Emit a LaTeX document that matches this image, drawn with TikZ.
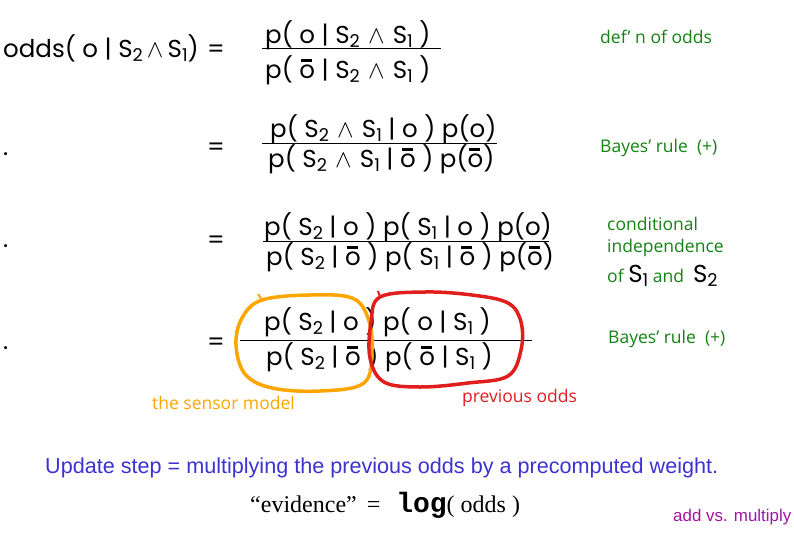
\documentclass[tikz,border=0pt]{standalone}
\usepackage{fontspec}
\usepackage{graphicx}
\setmainfont{Poppins}
\newfontfamily\gfont{Open Sans}
\newfontfamily\afont{Liberation Sans}
\newfontfamily\tfont{Liberation Serif}
\newfontfamily\mfont{Liberation Mono}
\newcommand\sbs[1]{\raisebox{-0.3ex}{\scalebox{0.72}{#1}}}
\newcommand\ob{\rlap{\hspace{0.06em}\rule[0.64em]{0.46em}{0.13em}}o}
\newcommand\wg{\,\,$\wedge$\,\,}
\newcommand\wgs{\,$\wedge$\,}
\definecolor{gr}{RGB}{20,130,20}
\definecolor{org}{RGB}{255,165,0}
\definecolor{rd}{RGB}{225,30,30}
\definecolor{bl}{RGB}{60,50,210}
\definecolor{pu}{RGB}{160,20,160}
\begin{document}
\begin{tikzpicture}[x=1pt,y=-1pt,
  eq/.style={inner sep=0pt,anchor=base west,font=\fontsize{24.5}{28}\selectfont},
  note/.style={inner sep=0pt,anchor=base west,text=gr,font=\gfont\fontsize{17.5}{20}\selectfont},
  frac/.style={line width=1pt}]
\useasboundingbox (0,0) rectangle (794,536);
% row 1
\node[eq] (lhs) at (3,57) {odds( o | S\sbs{2}\wgs S\sbs{1})};
\node[eq] (eq1) at (207,57) {=};
\node[eq] (n1) at (265,43) {p( o | S\sbs{2}\wg S\sbs{1} )};
\node[eq] (d1) at (265,78) {p( \ob{} | S\sbs{2}\wg S\sbs{1} )};
\draw[frac] (262,48) -- (441,48);
\node[note] (c1) at (600,43) {def’ n of odds};
% row 2
\node[eq] (dot2) at (3,155) {.};
\node[eq] (eq2) at (207,155) {=};
\node[eq] (n2) at (270,137) {p( S\sbs{2}\wg S\sbs{1} | o ) p(o)};
\node[eq] (d2) at (268,167) {p( S\sbs{2}\wg S\sbs{1} | \ob{} ) p(\ob{})};
\draw[frac] (262,143) -- (497,143);
\node[note] (c2) at (600,152) {Bayes’ rule \ (+)};
% row 3
\node[eq] (dot3) at (3,247) {.};
\node[eq] (eq3) at (207,248) {=};
\node[eq] (n3) at (264,235) {p( S\sbs{2} | o ) p( S\sbs{1} | o ) p(o)};
\node[eq] (d3) at (266,265) {p( S\sbs{2} | \ob{} ) p( S\sbs{1} | \ob{} ) p(\ob{})};
\draw[frac] (263,241.5) -- (549,241.5);
\node[note] (c3) at (607,230) {conditional};
\node[note] (c3a) at (607,252) {independence};
\node[note] (c3b) at (607,282) {of {\rmfamily\fontsize{24.5}{28}\selectfont\color{black}S\sbs{1}} and \ {\rmfamily\fontsize{24.5}{28}\selectfont\color{black}S\sbs{2}}};
% row 4
\node[eq] (dot4) at (3,349) {.};
\node[eq] (eq4) at (207,350) {=};
\node[eq] (n4) at (264,330) {p( S\sbs{2} | o ) p( o | S\sbs{1} )};
\node[eq] (d4) at (266,365) {p( S\sbs{2} | \ob{} ) p( \ob{} | S\sbs{1} )};
\draw[frac] (240,340) -- (532,340);
\node[note] (c4) at (608,343) {Bayes’ rule \ (+)};
% loops
\draw[org,line width=3.5pt,line join=round] plot[smooth cycle,tension=0.6] coordinates
  {(262,300) (310,295) (352,298) (368,318) (372,350) (364,383) (320,391) (272,388) (245,374) (236,345) (242,318)};
\draw[org,line width=2pt] (262,300) -- (258,294);
\draw[rd,line width=3.5pt,line join=round] plot[smooth cycle,tension=0.6] coordinates
  {(380,297) (425,292) (472,295) (508,303) (521,322) (521,350) (508,376) (468,383) (420,387) (384,382) (370,358) (371,322)};
\draw[rd,line width=2pt] (380,297) -- (378,291);
\node[note,text=org] (sm) at (152,409) {the sensor model};
\node[note,text=rd] (po) at (462,402) {previous odds};
% bottom
\node[inner sep=0pt,anchor=base west,text=bl,font=\afont\fontsize{21.6}{24}\selectfont] (upd) at (45,473)
  {Update step = multiplying the previous odds by a precomputed weight.};
\node[inner sep=0pt,anchor=base west,font=\tfont\fontsize{24}{28}\selectfont] (ev) at (250,512)
  {“evidence”\,\ = \ \,{\mfont\bfseries\fontsize{28}{30}\selectfont log}( odds )};
\node[inner sep=0pt,anchor=base west,text=pu,font=\afont\fontsize{16.9}{20}\selectfont] (am) at (673,521) {add vs. multiply};
\end{tikzpicture}
\end{document}
